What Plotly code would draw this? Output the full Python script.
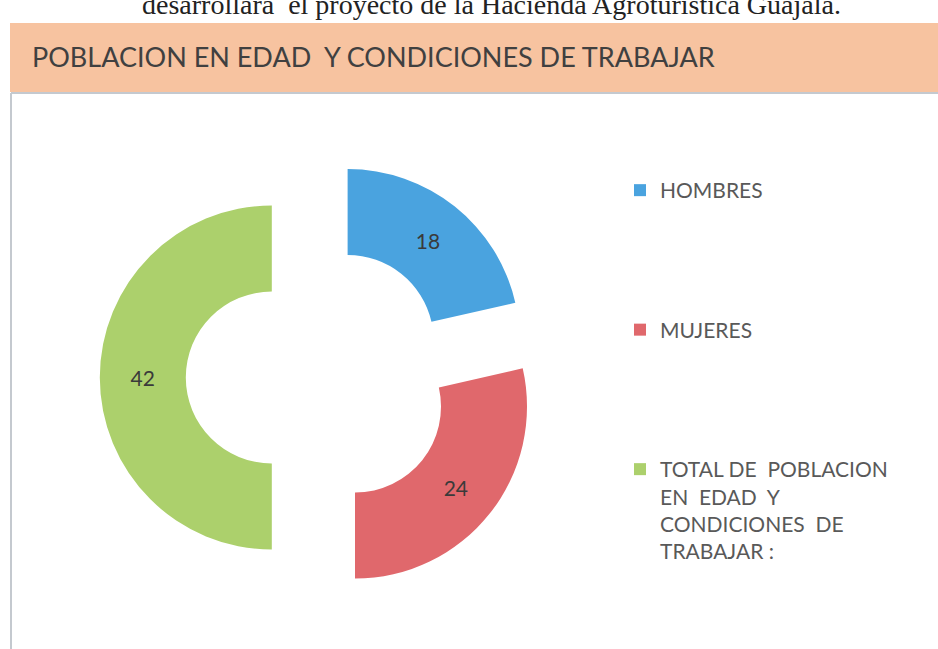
import plotly.graph_objects as go

# ---- data ----
categories = [
    "HOMBRES",
    "MUJERES",
    "TOTAL DE  POBLACION<br>EN  EDAD  Y<br>CONDICIONES  DE<br>TRABAJAR :",
]
values = [18, 24, 42]
colors = ["#4aa3df", "#e0686c", "#acd06c"]
title_text = "POBLACION EN EDAD  Y CONDICIONES DE TRABAJAR"
page_text = "desarrollará  el proyecto de la Hacienda Agroturística Guajalá."

W, H = 938, 649

# legend labels padded with blank lines to space the entries like the original
legend_labels = [
    categories[0] + "<br> <br> <br> <br> ",
    categories[1] + "<br> <br> <br> <br> ",
    categories[2],
]

fig = go.Figure(
    go.Pie(
        labels=legend_labels,
        values=values,
        marker=dict(colors=colors, line=dict(width=0)),
        hole=0.5,
        pull=[0.2715, 0.2715, 0.2715],
        sort=False,
        direction="clockwise",
        rotation=0,
        textinfo="value",
        textposition="inside",
        insidetextorientation="horizontal",
        textfont=dict(family="Lato", size=21, color="#3a3a3a"),
        domain=dict(x=[99.8 / W, 537.2 / W], y=[1 - 596.2 / H, 1 - 158.8 / H]),
        hoverinfo="label+value",
    )
)

shapes = [
    # header band
    dict(type="rect", xref="paper", yref="paper",
         x0=10 / W, x1=1, y0=1 - 92 / H, y1=1 - 23 / H,
         fillcolor="#f7c3a0", line=dict(width=0), layer="below"),
    # frame top line
    dict(type="line", xref="paper", yref="paper",
         x0=11 / W, x1=1, y0=1 - 93 / H, y1=1 - 93 / H,
         line=dict(color="#c4c9cf", width=2)),
    # frame left line
    dict(type="line", xref="paper", yref="paper",
         x0=11 / W, x1=11 / W, y0=0, y1=1 - 93 / H,
         line=dict(color="#c4c9cf", width=2)),
]

annotations = [
    dict(text=title_text, xref="paper", yref="paper",
         x=30 / W, y=1 - 57 / H, xanchor="left", yanchor="middle",
         showarrow=False,
         font=dict(family="Lato", size=27, color="#404040")),
    dict(text=page_text, xref="paper", yref="paper",
         x=491 / W, y=1 - 4 / H, xanchor="center", yanchor="middle",
         showarrow=False,
         font=dict(family="Liberation Serif", size=28, color="#222222")),
]

fig.update_layout(
    width=W, height=H, autosize=False,
    margin=dict(l=0, r=0, t=0, b=0),
    paper_bgcolor="white", plot_bgcolor="white",
    shapes=shapes,
    annotations=annotations,
    showlegend=True,
    legend=dict(
        x=620 / W, y=1 - 170 / H, xanchor="left", yanchor="top",
        valign="top",
        font=dict(family="Lato", size=21, color="#595959"),
        bgcolor="rgba(0,0,0,0)",
    ),
)

fig.write_html(
    "out.html",
    config={"displayModeBar": False},
    post_script="document.body.style.margin='0';document.body.style.overflow='hidden';",
)
